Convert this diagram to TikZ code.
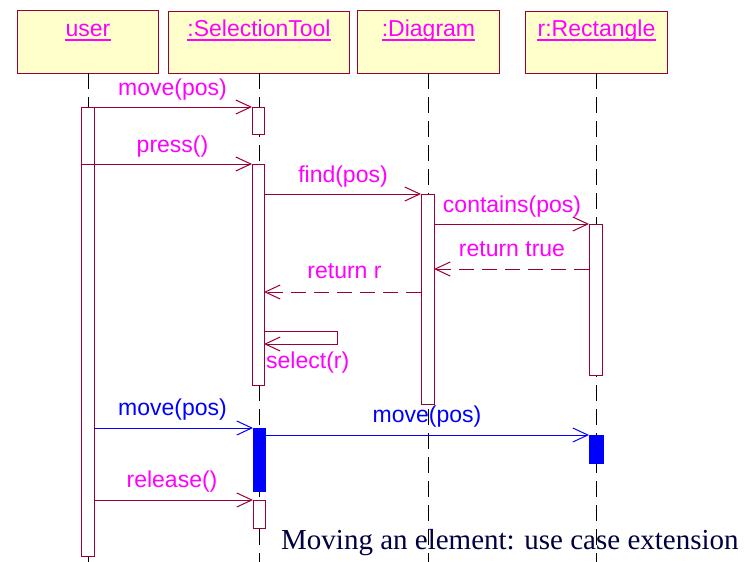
\documentclass[tikz,border=0pt]{standalone}
\usepackage{fontspec}
\setmainfont{Liberation Sans}
\newfontfamily\capfont{Liberation Serif}
\usetikzlibrary{arrows.meta}
\definecolor{lnc}{RGB}{153,0,51}
\definecolor{hdr}{RGB}{255,255,204}
\definecolor{mag}{RGB}{255,0,255}
\definecolor{blu}{RGB}{0,0,255}
\definecolor{capc}{RGB}{0,0,64}
\begin{document}
\begin{tikzpicture}[x=1pt,y=-1pt,
  hdrbox/.style={draw=lnc, fill=hdr, line width=1pt},
  hdrtxt/.style={text=mag, font=\fontsize{23}{26}\selectfont, anchor=base, inner sep=0pt},
  uline/.style={draw=mag, line width=1.6pt},
  life/.style={draw=black, line width=1pt, dash pattern=on 16pt off 8pt},
  actbox/.style={draw=lnc, fill=white, line width=1pt},
  actblue/.style={draw=blu, fill=blu, line width=1pt},
  msg/.style={draw=lnc, line width=1pt, -{Straight Barb[length=15pt,width=14pt]}},
  ret/.style={msg, dash pattern=on 15pt off 8pt},
  msgb/.style={msg, draw=blu},
  lbl/.style={text=mag, font=\fontsize{23}{26}\selectfont, anchor=base, inner sep=0pt},
  lblb/.style={lbl, text=blu},
]
\useasboundingbox (0,0) rectangle (745,562);
\fill[white] (0,0) rectangle (745,562);

% header boxes
\draw[hdrbox] (17,10) rectangle (158,73);
\draw[hdrbox] (168,11) rectangle (349,73);
\draw[hdrbox] (357,10) rectangle (499,73);
\draw[hdrbox] (525,11) rectangle (667,73);
\node[hdrtxt] (user) at (88,36) {user};
\node[hdrtxt] (st) at (259,36) {:SelectionTool};
\node[hdrtxt] (dg) at (428.5,36) {:Diagram};
\node[hdrtxt] (rc) at (596.5,36) {r:Rectangle};
\foreach \n in {user,st,dg,rc}
  \draw[uline] ([yshift=-4pt]\n.base west) -- ([yshift=-4pt]\n.base east);

% lifelines
\draw[life] (88,73) -- (88,562);
\draw[life] (259,73) -- (259,562);
\draw[life] (428,73) -- (428,562);
\draw[life] (596,73) -- (596,562);

% activations
\draw[actbox] (81,107) rectangle (94,556);
\draw[actbox] (252,107) rectangle (264,134);
\draw[actbox] (252,164) rectangle (264,385);
\draw[actbox] (421,194) rectangle (434,404);
\draw[actbox] (589,224) rectangle (602,375);
\draw[actblue] (253,428) rectangle (265,491);
\draw[actblue] (589,435) rectangle (603,463);
\draw[actbox] (253,500) rectangle (265,528);

% message end points
\coordinate (m1s) at (94,107);  \coordinate (m1e) at (252,107);
\coordinate (m2s) at (81,164);  \coordinate (m2e) at (252,164);
\coordinate (m3s) at (264,194); \coordinate (m3e) at (421,194);
\coordinate (m4s) at (434,224); \coordinate (m4e) at (589,224);
\coordinate (r1s) at (589,269); \coordinate (r1e) at (434,269);
\coordinate (r2s) at (421,292); \coordinate (r2e) at (264,292);
\coordinate (s1)  at (264,331); \coordinate (s1a) at (337,331);
\coordinate (s1b) at (337,344); \coordinate (s2)  at (264,344);
\coordinate (b1s) at (94,428);  \coordinate (b1e) at (253,428);
\coordinate (b2s) at (265,435); \coordinate (b2e) at (589,435);
\coordinate (m5s) at (94,500);  \coordinate (m5e) at (253,500);

% messages
\draw[msg] (m1s) -- (m1e);
\draw[msg] (m2s) -- (m2e);
\draw[msg] (m3s) -- (m3e);
\draw[msg] (m4s) -- (m4e);
\draw[ret] (r1s) -- (r1e);
\draw[ret] (r2s) -- (r2e);
\draw[msg] (s1) -- (s1a) -- (s1b) -- (s2);
\draw[msgb] (b1s) -- (b1e);
\draw[msgb] (b2s) -- (b2e);
\draw[msg] (m5s) -- (m5e);

% labels
\node[lbl] (l1) at (172.5,95) {move(pos)};
\node[lbl] (l2) at (172.5,152) {press()};
\node[lbl] (l3) at (343,182) {find(pos)};
\node[lbl] (l4) at (512,212) {contains(pos)};
\node[lbl] (l5) at (512,256) {return true};
\node[lbl] (l6) at (344.5,278) {return r};
\node[lbl, anchor=base west] (l7) at (266,368) {select(r)};
\node[lblb] (l8) at (172.5,415) {move(pos)};
\node[lblb] (l9) at (427,422) {move(pos)};
\node[lbl] (l10) at (172,487) {release()};

% caption
\node[anchor=base west, inner sep=0pt, text=capc, font=\capfont\fontsize{29}{32}\selectfont] (cap) at (281,549) {Moving an element: use case extension};
\end{tikzpicture}
\end{document}
